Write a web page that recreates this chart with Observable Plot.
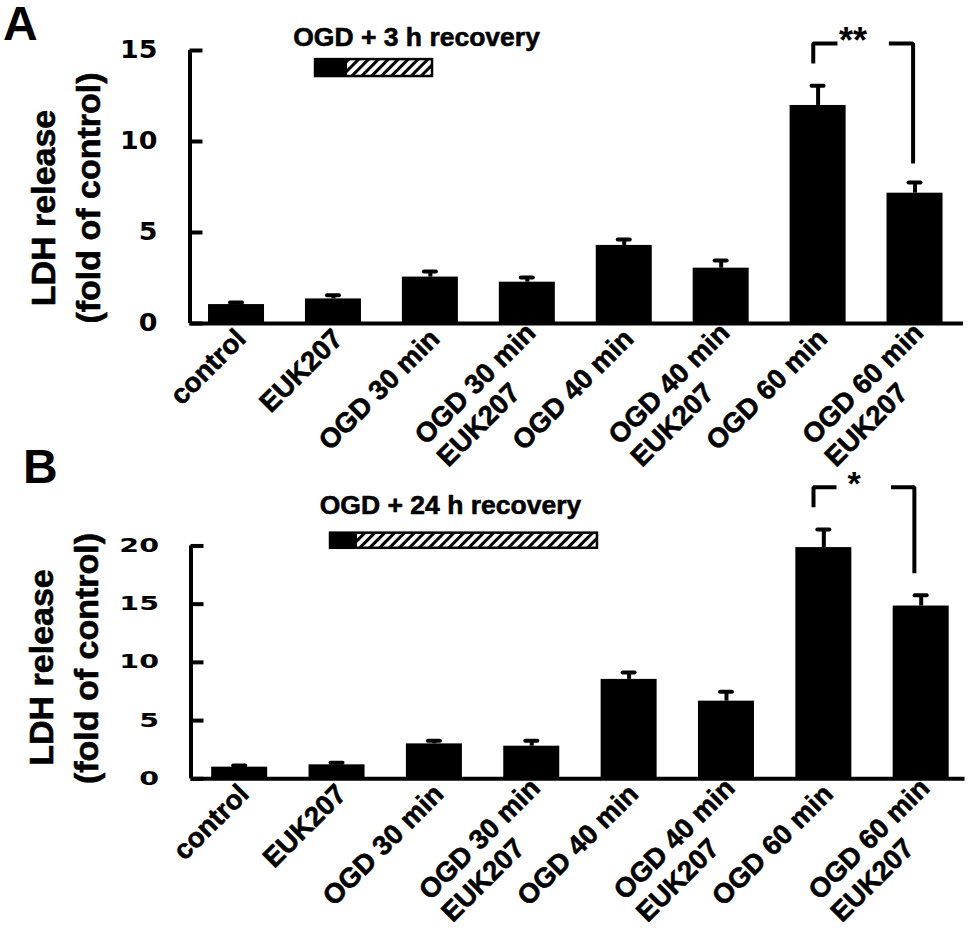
<!DOCTYPE html>
<html><head><meta charset="utf-8">
<script src="https://cdn.jsdelivr.net/npm/d3@7"></script>
<script src="https://cdn.jsdelivr.net/npm/@observablehq/plot@0.6"></script>
<style>
html,body{margin:0;padding:0;background:#fff;}
#wrap{position:relative;width:978px;height:929px;overflow:hidden;background:#fff;}
#wrap svg{position:absolute;left:0;overflow:visible;background:transparent !important;}
</style></head><body><div id="wrap"></div>
<script>
// ---- data ----
const categories = ["control", "EUK207", "OGD 30 min", "OGD 30 min\nEUK207", "OGD 40 min", "OGD 40 min\nEUK207", "OGD 60 min", "OGD 60 min\nEUK207"];
const meanA = [1.04, 1.35, 2.55, 2.27, 4.29, 3.04, 11.98, 7.16];
const semA  = [0.12, 0.20, 0.31, 0.26, 0.33, 0.42, 1.08, 0.59];
const meanB = [1.00, 1.20, 3.00, 2.80, 8.54, 6.67, 19.86, 14.84];
const semB  = [0.15, 0.18, 0.27, 0.47, 0.60, 0.81, 1.55, 0.92];
const yTicksA = [0, 5, 10, 15];
const yTicksB = [0, 5, 10, 15, 20];
const titleA = "OGD + 3 h recovery";
const titleB = "OGD + 24 h recovery";
const sigA = "**";
const sigB = "*";
const panelLabels = ["A", "B"];
const yTitle = ["LDH release", "(fold of control)"];

// ---- layout (not data) ----
const FONT = "'Liberation Sans', Arial, sans-serif";
const panels = [
  {id: "A", mean: meanA, sem: semA, ticks: yTicksA, title: titleA, sig: sigA, label: panelLabels[0],
   top: 0, height: 460, margin: {top: 50, bottom: 137, left: 189.5, right: 15},
   xDomain: [-0.48, 7.5], yDomain: [0, 15],
   tickFont: {family: "'DejaVu Sans', sans-serif", size: 24, stretch: 1.12, dx: -32.5},
   schem: {x0: 0.815, x1: 1.145, x2: 2.022, yTop: 14.5, yBot: 13.57}, titlePos: {x: 1.857, y: 15.73},
   br: {l: 5.95, gl: 6.2, gr: 6.73, r: 6.98, top: 15.38, lEnd: 14.29, rEnd: 8.79, lx: 6.36, ly: 15.47, fs: 36},
   lab: {dx: -187, dy: -45},
   yt: [{dx: -145.5, dy: 21}, {dx: -100.5, dy: 11}]},
  {id: "B", mean: meanB, sem: semB, ticks: yTicksB, title: titleB, sig: sigB, label: panelLabels[1],
   top: 460, height: 469, margin: {top: 51.7, bottom: 150.7, left: 190.5, right: 13.5},
   xDomain: [-0.5, 7.45], yDomain: [0, 22.9],
   tickFont: {family: "'DejaVu Sans', sans-serif", size: 19, stretch: 1.5, dx: -32},
   schem: {x0: 0.933, x1: 1.21, x2: 3.675, yTop: 21.1, yBot: 19.8}, titlePos: {x: 2.165, y: 23.5},
   br: {l: 5.894, gl: 6.13, gr: 6.69, r: 6.93, top: 25.05, lEnd: 23.33, rEnd: 17.65, lx: 6.31, ly: 25.35, fs: 34},
   lab: {dx: -168, dy: -63.7},
   yt: [{dx: -148.5, dy: 22}, {dx: -103.5, dy: 13}]}
];

const W = 978;
const XFS = 27.5;
const heavy = {stroke: "black", strokeWidth: 0.6};
const wrap = document.getElementById("wrap");
const idx = d3.range(categories.length);
const single = idx.filter(i => !categories[i].includes("\n"));
const multi = idx.filter(i => categories[i].includes("\n"));

for (const P of panels) {
  const m = P.margin;
  const pxPerUnit = (W - m.left - m.right) / (P.xDomain[1] - P.xDomain[0]);
  const barHalf = 28 / pxPerUnit;
  const capHalf = 6 / pxPerUnit;
  const tickLen = 13 / pxPerUnit;
  const x0 = P.xDomain[0];
  const b = P.br;
  const bracket = [
    {z: 0, x: b.l, y: b.lEnd}, {z: 0, x: b.l, y: b.top}, {z: 0, x: b.gl, y: b.top},
    {z: 1, x: b.gr, y: b.top}, {z: 1, x: b.r, y: b.top}, {z: 1, x: b.r, y: b.rEnd}
  ];
  const s = P.schem;
  const svg = Plot.plot({
    width: W, height: P.height,
    marginTop: m.top, marginBottom: m.bottom, marginLeft: m.left, marginRight: m.right,
    x: {type: "linear", domain: P.xDomain, axis: null},
    y: {type: "linear", domain: P.yDomain, axis: null},
    style: {fontFamily: FONT, background: "transparent", overflow: "visible"},
    marks: [
      // bars
      Plot.rect(idx, {x1: i => i - barHalf, x2: i => i + barHalf, y1: 0, y2: i => P.mean[i], fill: "black"}),
      // error bars
      Plot.ruleX(idx, {x: i => i, y1: i => P.mean[i], y2: i => P.mean[i] + P.sem[i], stroke: "black", strokeWidth: 4}),
      Plot.ruleY(idx, {y: i => P.mean[i] + P.sem[i], x1: i => i - capHalf, x2: i => i + capHalf, stroke: "black", strokeWidth: 4, strokeLinecap: "round"}),
      // axes
      Plot.ruleY([0], {stroke: "black", strokeWidth: 4}),
      Plot.ruleX([x0], {y1: 0, y2: P.ticks[P.ticks.length - 1], stroke: "black", strokeWidth: 4}),
      Plot.ruleY(P.ticks, {y: d => d, x1: x0, x2: x0 + tickLen, stroke: "black", strokeWidth: 4}),
      Plot.text(P.ticks, {y: d => d, text: d => String(d), frameAnchor: "left", dx: P.tickFont.dx, textAnchor: "end",
        lineAnchor: "middle", fontSize: P.tickFont.size, fontWeight: "bold", fontFamily: P.tickFont.family, fill: "black"}),
      // x labels
      Plot.text(single, {x: i => i, text: i => categories[i], frameAnchor: "bottom", rotate: -45, textAnchor: "end",
        lineAnchor: "top", dx: -3, dy: 3, fontSize: XFS, fontWeight: "bold", fontFamily: FONT, fill: "black", ...heavy}),
      Plot.text(multi, {x: i => i, text: i => categories[i], frameAnchor: "bottom", rotate: -45, textAnchor: "end",
        lineAnchor: "top", lineHeight: 1.15, dx: -6, dy: -5, fontSize: XFS, fontWeight: "bold", fontFamily: FONT, fill: "black", ...heavy}),
      // y title
      Plot.text([yTitle[0]], {text: d => d, frameAnchor: "left", rotate: -90, textAnchor: "middle", lineAnchor: "middle",
        dx: P.yt[0].dx, dy: P.yt[0].dy, fontSize: 34, fontWeight: "bold", fontFamily: FONT, fill: "black", ...heavy}),
      Plot.text([yTitle[1]], {text: d => d, frameAnchor: "left", rotate: -90, textAnchor: "middle", lineAnchor: "middle",
        dx: P.yt[1].dx, dy: P.yt[1].dy, fontSize: 34, fontWeight: "bold", fontFamily: FONT, fill: "black", ...heavy}),
      // panel label
      Plot.text([P.label], {text: d => d, frameAnchor: "top-left", textAnchor: "start", lineAnchor: "top",
        dx: P.lab.dx, dy: P.lab.dy, fontSize: 48, fontWeight: "bold", fontFamily: FONT, fill: "black"}),
      // treatment schematic
      Plot.text([P.title], {x: P.titlePos.x, y: P.titlePos.y, text: d => d, textAnchor: "middle", lineAnchor: "middle",
        fontSize: 26.5, fontWeight: "bold", fontFamily: FONT, fill: "black", ...heavy}),
      Plot.rect([0], {x1: s.x1, x2: s.x2, y1: s.yBot, y2: s.yTop, fill: `url(#hatch${P.id})`}),
      Plot.rect([0], {x1: s.x0, x2: s.x1, y1: s.yBot, y2: s.yTop, fill: "black"}),
      Plot.rect([0], {x1: s.x0, x2: s.x2, y1: s.yBot, y2: s.yTop, fill: "none", stroke: "black", strokeWidth: 2.5}),
      // significance bracket
      Plot.line(bracket, {x: "x", y: "y", z: "z", stroke: "black", strokeWidth: 4, strokeLinejoin: "miter", strokeLinecap: "butt"}),
      Plot.text([P.sig], {x: b.lx, y: b.ly, text: d => d, textAnchor: "middle", lineAnchor: "middle",
        fontSize: b.fs, fontWeight: "bold", fontFamily: FONT, fill: "black"})
    ]
  });
  svg.style.top = P.top + "px";
  svg.style.overflow = "visible";
  wrap.appendChild(svg);

  // hatch pattern
  const defs = d3.select(svg).insert("defs", ":first-child");
  const pat = defs.append("pattern").attr("id", "hatch" + P.id).attr("patternUnits", "userSpaceOnUse")
    .attr("width", 7).attr("height", 7).attr("patternTransform", "rotate(45)");
  pat.append("rect").attr("width", 7).attr("height", 7).attr("fill", "white");
  pat.append("rect").attr("width", 3).attr("height", 7).attr("fill", "black");

  const tickStrings = P.ticks.map(String);
  svg.querySelectorAll("text").forEach(t => {
    const ts = t.querySelectorAll("tspan");
    if (ts.length > 1) {
      const w = ts[0].getComputedTextLength();
      t.setAttribute("text-anchor", "start");
      ts.forEach(sp => sp.setAttribute("x", -w));
    } else if (ts.length === 0 && tickStrings.includes(t.textContent)) {
      let tr = t.getAttribute("transform");
      if (!tr) {
        tr = `translate(${t.getAttribute("x") || 0},${t.getAttribute("y") || 0})`;
        t.removeAttribute("x"); t.removeAttribute("y");
      }
      t.setAttribute("transform", tr + ` scale(${P.tickFont.stretch},1)`);
    }
  });
}
</script></body></html>
